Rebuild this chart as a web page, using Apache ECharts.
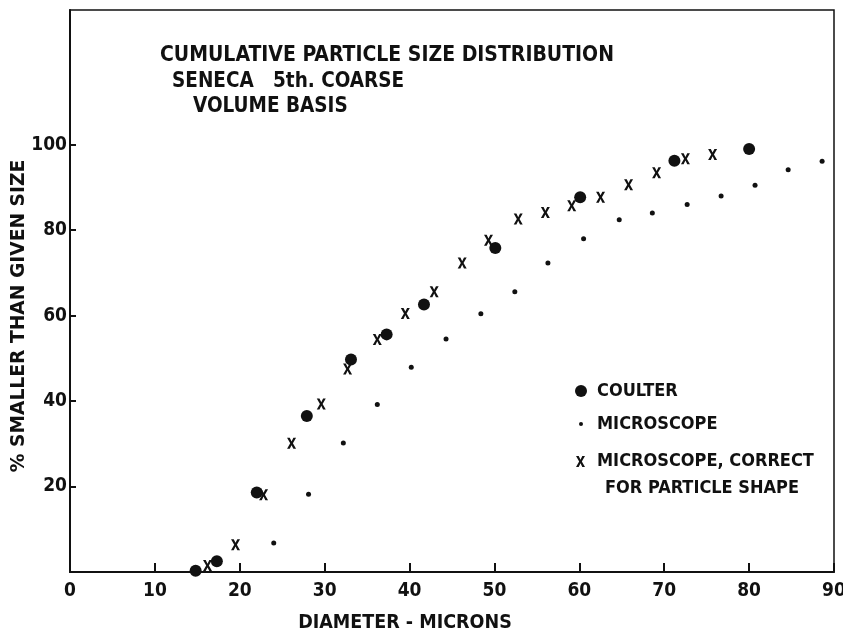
<!DOCTYPE html>
<html>
<head>
<meta charset="utf-8">
<script src="https://cdn.jsdelivr.net/npm/echarts@6/dist/echarts.min.js"></script>
<style>
  html, body { margin: 0; padding: 0; background: #fff; }
  #chart { width: 843px; height: 631px; }
</style>
</head>
<body>
<div id="chart"></div>
<script>
// values: [diameter (microns), % smaller than given size]
const coulter = [
  [14.8, 0.3], [17.3, 2.5], [22.0, 18.6], [27.9, 36.5], [33.1, 49.7],
  [37.3, 55.6], [41.7, 62.6], [50.1, 75.8], [60.1, 87.7], [71.2, 96.2],
  [80.0, 99.0]
];
const microscope = [
  [24.0, 6.8], [28.1, 18.2], [32.2, 30.2], [36.2, 39.2], [40.2, 47.9],
  [44.3, 54.5], [48.4, 60.4], [52.4, 65.6], [56.3, 72.3], [60.5, 78.0],
  [64.7, 82.4], [68.6, 84.0], [72.7, 86.0], [76.7, 88.0], [80.7, 90.5],
  [84.6, 94.1], [88.6, 96.1]
];
const corrected = [
  [16.2, 1.5], [19.5, 6.4], [22.8, 18.1], [26.1, 30.1], [29.6, 39.3],
  [32.7, 47.5], [36.2, 54.4], [39.5, 60.5], [42.9, 65.6], [46.2, 72.3],
  [49.3, 77.6], [52.8, 82.6], [56.0, 84.1], [59.1, 85.7], [62.5, 87.7],
  [65.8, 90.6], [69.1, 93.4], [72.5, 96.7], [75.7, 97.7]
];
const yTicks = [20, 40, 60, 80, 100];
const titleLines = ['CUMULATIVE PARTICLE SIZE DISTRIBUTION', 'SENECA   5th. COARSE', 'VOLUME BASIS'];
const seriesNames = ['COULTER', 'MICROSCOPE', 'MICROSCOPE, CORRECT FOR PARTICLE SHAPE'];

const INK = '#111';
const FONT = "'DejaVu Sans Condensed', 'DejaVu Sans', sans-serif";
const XMARK = 'path://M0,0 L3,0 L5,4 L7,0 L10,0 L6.5,6 L10,12 L7,12 L5,8 L3,12 L0,12 L3.5,6 Z';

const txt = { fontFamily: FONT, fontWeight: 'bold', fontSize: 18, color: INK };
const big = Object.assign({}, txt, { fontSize: 20.5 });

const chart = echarts.init(document.getElementById('chart'));

const option = {
  backgroundColor: '#fff',
  animation: false,
  title: [
    { text: titleLines[0], left: 160, top: 45, padding: 0, textStyle: Object.assign({}, big, { fontSize: 21 }) },
    { text: titleLines[1], left: 172, top: 71, padding: 0, textStyle: big },
    { text: titleLines[2], left: 193, top: 96, padding: 0, textStyle: big }
  ],
  legend: [
    {
      data: [{ name: seriesNames[0], icon: 'circle' }],
      left: 575, top: 382, padding: 0, itemWidth: 12, itemHeight: 12,
      textStyle: Object.assign({}, txt, { padding: [0, 0, 0, 5] })
    },
    {
      data: [{ name: seriesNames[1], icon: 'circle' }],
      left: 579, top: 415, padding: 0, itemWidth: 4, itemHeight: 4,
      textStyle: Object.assign({}, txt, { padding: [0, 0, 0, 9] })
    },
    {
      data: [{ name: seriesNames[2], icon: XMARK }],
      left: 576, top: 421, padding: 0, itemWidth: 9, itemHeight: 11,
      formatter: () => '{a|MICROSCOPE, CORRECT}\n{b|FOR PARTICLE SHAPE}',
      textStyle: Object.assign({}, txt, {
        lineHeight: 27,
        padding: [27, 0, 0, 7],
        rich: {
          a: Object.assign({}, txt, { lineHeight: 27 }),
          b: Object.assign({}, txt, { lineHeight: 27, padding: [0, 0, 0, 8] })
        }
      })
    }
  ],
  grid: {
    left: 70, right: 9, top: 10, bottom: 59,
    outerBoundsMode: 'none',
    show: true, borderColor: INK, borderWidth: 1.5, backgroundColor: 'transparent'
  },
  xAxis: {
    type: 'value', min: 0, max: 90, interval: 10,
    name: 'DIAMETER - MICRONS', nameLocation: 'middle', nameGap: 41,
    nameTextStyle: Object.assign({}, txt, { fontSize: 19.5, padding: [0, 94, 0, 0] }),
    axisLine: { lineStyle: { color: INK, width: 2 } },
    axisTick: { inside: true, length: 9, lineStyle: { color: INK, width: 2 } },
    axisLabel: Object.assign({}, txt, { fontSize: 19, margin: 10 }),
    splitLine: { show: false }
  },
  yAxis: {
    type: 'value', min: 0, max: 131.5,
    name: '% SMALLER THAN GIVEN SIZE', nameLocation: 'middle', nameGap: 41,
    nameMoveOverlap: false,
    nameTextStyle: Object.assign({}, txt, { fontFamily: 'DejaVu Sans', fontSize: 18.7, padding: [0, 50, 0, 0] }),
    axisLine: { show: true, lineStyle: { color: INK, width: 2 } },
    axisTick: { show: true, inside: true, length: 6, customValues: yTicks, lineStyle: { color: INK, width: 2 } },
    axisLabel: Object.assign({}, txt, { fontSize: 19, margin: 3, customValues: yTicks }),
    splitLine: { show: false }
  },
  series: [
    {
      name: seriesNames[0], type: 'scatter', data: coulter,
      symbol: 'circle', symbolSize: 12, itemStyle: { color: INK, opacity: 1 }
    },
    {
      name: seriesNames[1], type: 'scatter', data: microscope,
      symbol: 'circle', symbolSize: 5, itemStyle: { color: INK, opacity: 1 }
    },
    {
      name: seriesNames[2], type: 'scatter', data: corrected,
      symbol: XMARK, symbolSize: [9, 11], itemStyle: { color: INK, opacity: 1 }
    }
  ]
};

chart.setOption(option);
</script>
</body>
</html>
